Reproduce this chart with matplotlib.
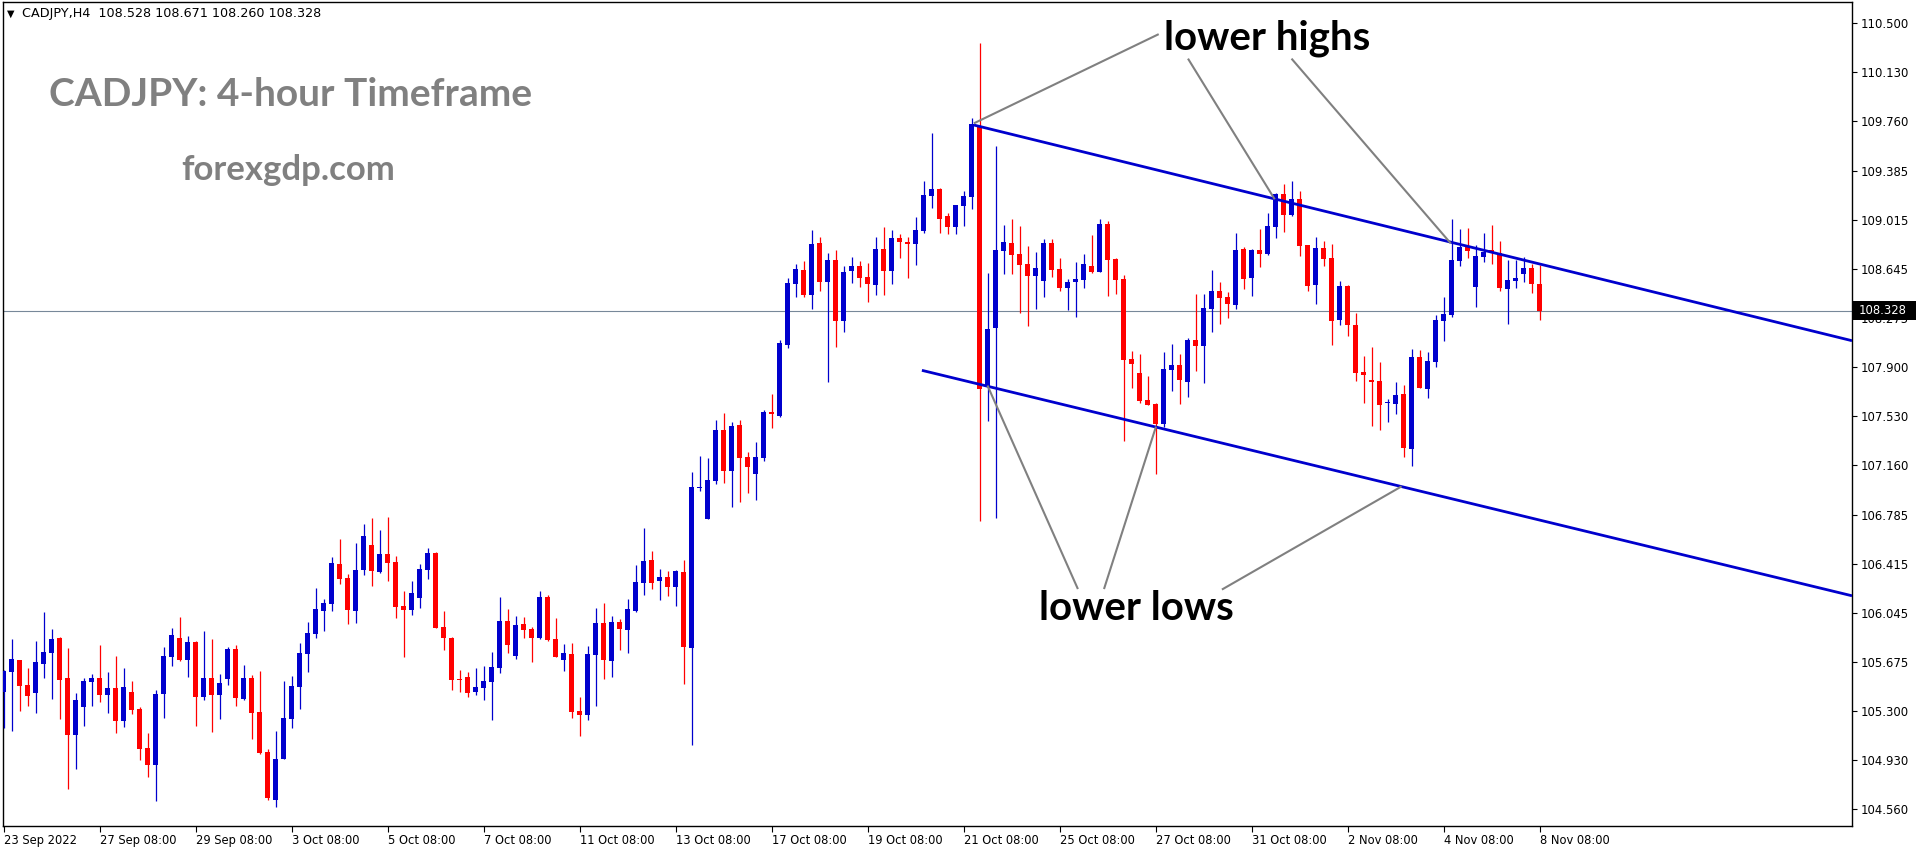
import matplotlib
matplotlib.use("Agg")
import matplotlib.pyplot as plt
import matplotlib.transforms as mtrans
from matplotlib.patches import Rectangle
import numpy as np

# ---------------- data ----------------
opens = [105.447,105.598,105.686,105.497,105.439,105.659,105.742,105.853,105.550,105.122,
         105.333,105.522,105.550,105.424,105.474,105.228,105.444,105.316,105.021,104.895,
         105.432,105.711,105.853,105.689,105.822,105.409,105.550,105.424,105.545,105.769,
         105.394,105.550,105.293,104.991,104.630,104.940,105.243,105.485,105.734,105.885,
         106.059,106.112,106.412,106.306,106.059,106.369,106.556,106.354,106.488,106.427,
         106.094,106.067,106.157,106.369,106.495,105.936,105.855,105.543,105.558,105.447,
         105.477,105.522,105.628,105.981,105.719,105.958,105.921,105.855,106.163,105.845,
         105.689,105.732,105.301,105.273,105.726,105.966,105.681,105.973,105.915,106.059,
         106.271,106.442,106.286,106.314,106.240,106.351,105.779,106.986,106.755,107.042,
         107.425,107.117,107.463,107.221,107.095,107.216,107.561,107.533,108.070,108.531,
         108.634,108.448,108.838,108.546,108.710,108.251,108.629,108.664,108.581,108.523,
         108.793,108.629,108.876,108.846,108.833,108.932,109.196,109.247,109.042,108.962,
         109.121,109.189,109.723,107.753,108.199,108.781,108.839,108.755,108.680,108.592,
         108.554,108.839,108.642,108.501,108.546,108.561,108.665,108.622,108.982,108.718,
         108.566,107.964,107.856,107.652,107.624,107.473,107.881,107.916,107.790,108.105,
         108.062,108.342,108.476,108.430,108.372,108.793,108.576,108.786,108.758,108.962,
         109.209,109.053,109.171,108.823,108.524,108.801,108.725,108.259,108.513,108.219,
         107.863,107.803,107.795,107.627,107.624,107.697,107.284,107.977,107.737,107.941,
         108.251,108.297,108.705,108.808,108.508,108.735,108.786,108.763,108.493,108.554,
         108.607,108.650,108.528]
highs = [105.611,105.845,105.686,105.626,105.830,106.047,105.921,105.860,105.777,105.437,
         105.550,105.580,105.800,105.596,105.716,105.626,105.527,105.331,105.134,105.459,
         105.785,105.928,106.011,105.868,105.830,105.905,105.845,105.580,105.785,105.800,
         105.648,105.573,105.603,105.013,105.149,105.527,105.565,105.815,105.974,106.231,
         106.147,106.465,106.601,106.336,106.571,106.714,106.760,106.669,106.767,106.473,
         106.208,106.283,106.412,106.533,106.503,106.057,105.860,105.611,105.596,105.626,
         105.641,105.747,106.163,106.072,106.019,106.011,105.936,106.208,106.178,106.004,
         105.807,105.815,105.407,105.792,106.079,106.117,106.019,105.996,106.147,106.404,
         106.684,106.510,106.374,106.359,106.367,106.442,107.107,107.228,107.213,107.500,
         107.553,107.485,107.500,107.259,107.334,107.576,107.697,108.105,108.574,108.680,
         108.702,108.937,108.884,108.763,108.785,108.664,108.732,108.702,108.687,108.884,
         108.959,108.937,108.907,108.884,109.035,109.307,109.670,109.254,109.065,109.126,
         109.232,109.783,110.352,108.612,109.572,108.975,109.020,108.967,108.816,108.771,
         108.869,108.869,108.725,108.566,108.695,108.755,108.899,109.020,109.005,108.725,
         108.599,108.025,108.002,107.836,107.632,108.015,108.075,107.999,108.120,108.453,
         108.453,108.634,108.544,108.468,108.914,108.808,108.793,108.944,109.065,109.216,
         109.285,109.307,109.232,108.823,108.884,108.854,108.831,108.551,108.521,108.309,
         107.984,108.052,107.939,107.659,107.788,107.765,108.037,108.030,108.015,108.294,
         108.430,109.020,108.944,108.952,108.823,108.914,108.975,108.854,108.710,108.710,
         108.733,108.680,108.671]
lows = [105.170,105.152,105.303,105.341,105.288,105.553,105.394,105.243,104.714,104.865,
        105.190,105.341,105.371,105.288,105.137,105.182,105.281,104.933,104.804,104.623,
        105.250,105.643,105.681,105.560,105.190,105.386,105.144,105.243,105.500,105.341,
        105.386,105.092,104.978,104.630,104.577,104.940,105.175,105.318,105.598,105.855,
        105.908,106.059,106.263,105.961,105.968,106.331,106.248,106.346,106.286,106.006,
        105.711,106.029,106.082,106.301,105.931,105.764,105.462,105.447,105.409,105.424,
        105.386,105.235,105.591,105.742,105.696,105.855,105.674,105.848,105.832,105.711,
        105.606,105.250,105.114,105.235,105.341,105.545,105.560,105.764,105.742,106.052,
        106.180,106.225,106.142,106.172,106.097,105.507,105.046,106.966,106.755,107.019,
        107.027,106.845,106.883,106.951,106.898,107.193,107.443,107.525,108.047,108.433,
        108.433,108.342,108.478,107.790,108.055,108.168,108.538,108.508,108.395,108.448,
        108.448,108.531,108.728,108.576,108.675,108.917,109.106,108.917,108.909,108.909,
        108.969,109.098,106.740,107.496,106.762,108.607,108.607,108.312,108.214,108.342,
        108.433,108.584,108.478,108.335,108.282,108.501,108.614,108.622,108.440,108.456,
        107.344,107.745,107.632,107.616,107.095,107.450,107.722,107.624,107.677,107.874,
        107.783,108.168,108.229,108.274,108.342,108.493,108.440,108.660,108.750,108.879,
        108.924,109.045,108.743,108.478,108.380,108.667,108.070,108.216,108.138,107.798,
        107.632,107.458,107.427,107.488,107.548,107.223,107.155,107.745,107.669,107.904,
        108.100,108.282,108.667,108.728,108.357,108.697,108.682,108.478,108.229,108.501,
        108.546,108.463,108.260]
closes = [105.603,105.694,105.492,105.417,105.671,105.747,105.845,105.538,105.122,105.384,
          105.527,105.550,105.424,105.474,105.228,105.482,105.311,105.016,104.895,105.429,
          105.716,105.875,105.686,105.822,105.409,105.550,105.424,105.512,105.769,105.401,
          105.550,105.288,104.986,104.645,104.938,105.248,105.490,105.739,105.890,106.072,
          106.117,106.420,106.301,106.067,106.367,106.624,106.362,106.488,106.422,106.089,
          106.067,106.193,106.374,106.495,105.931,105.855,105.538,105.538,105.439,105.482,
          105.527,105.633,105.981,105.802,105.951,105.916,105.855,106.163,105.840,105.711,
          105.739,105.296,105.273,105.732,105.966,105.689,105.973,105.923,106.072,106.276,
          106.435,106.271,106.314,106.240,106.359,105.787,106.994,106.994,107.047,107.425,
          107.117,107.455,107.216,107.148,107.221,107.561,107.548,108.082,108.536,108.642,
          108.448,108.831,108.546,108.710,108.251,108.619,108.664,108.576,108.531,108.793,
          108.629,108.876,108.848,108.833,108.937,109.201,109.247,109.022,108.962,109.126,
          109.194,109.738,107.732,108.189,108.786,108.846,108.750,108.675,108.592,108.650,
          108.839,108.637,108.501,108.544,108.566,108.680,108.622,108.982,108.713,108.561,
          107.957,107.926,107.647,107.616,107.473,107.886,107.916,107.805,108.105,108.062,
          108.347,108.476,108.425,108.380,108.786,108.569,108.786,108.758,108.967,109.209,
          109.053,109.171,108.818,108.516,108.801,108.720,108.251,108.513,108.221,107.858,
          107.843,107.790,107.616,107.632,107.690,107.291,107.977,107.745,107.947,108.256,
          108.302,108.710,108.808,108.781,108.740,108.770,108.760,108.501,108.559,108.574,
          108.650,108.531,108.328]

xtick_bars = [0, 12, 24, 36, 48, 60, 72, 84, 96, 108, 120, 132, 144, 156, 168, 180, 192]
xtick_labels = ["23 Sep 2022", "27 Sep 08:00", "29 Sep 08:00", "3 Oct 08:00", "5 Oct 08:00",
                "7 Oct 08:00", "11 Oct 08:00", "13 Oct 08:00", "17 Oct 08:00", "19 Oct 08:00",
                "21 Oct 08:00", "25 Oct 08:00", "27 Oct 08:00", "31 Oct 08:00", "2 Nov 08:00",
                "4 Nov 08:00", "8 Nov 08:00"]
ytick_values = [110.500, 110.130, 109.760, 109.385, 109.015, 108.645, 108.275, 107.900,
                107.530, 107.160, 106.785, 106.415, 106.045, 105.675, 105.300, 104.930, 104.560]

current_price = 108.328
symbol_header = "CADJPY,H4  108.528 108.671 108.260 108.328"

# channel lines (bar index, price)
upper_channel_x = [121.3, 231.06]
upper_channel_y = [109.730, 108.100]
lower_channel_x = [114.8, 231.06]
lower_channel_y = [107.876, 106.172]

# annotation pointer lines (bar index, price)
highs_pointers = [((144.4, 110.417), (121.3, 109.743)),
                  ((148.06, 110.232), (158.9, 109.169)),
                  ((161.0, 110.232), (180.9, 108.836))]
lows_pointers = [((134.3, 106.223), (123.0, 107.761)),
                 ((137.56, 106.223), (144.06, 107.451)),
                 ((152.3, 106.219), (174.76, 106.999))]
highs_label_pos = (157.9, 110.388)
lows_label_pos = (141.6, 106.075)

# ---------------- drawing ----------------
W, H = 1916, 850
fig = plt.figure(figsize=(W / 100, H / 100), dpi=100)
fig.patch.set_facecolor("white")
ax = fig.add_axes([2.5 / W, 24 / H, (1852 - 2.5) / W, (848 - 24) / H])
ax.set_facecolor("white")
ax.set_xlim(-0.125, 231.06)
ax.set_ylim(104.432, 110.660)

BLUE = "#0000CD"
RED = "#FF0000"

x = np.arange(len(opens))
o = np.array(opens); h = np.array(highs); l = np.array(lows); c = np.array(closes)
colors = [BLUE if cc > oo else RED for oo, cc in zip(o, c)]

ax.axhline(current_price, color="#778899", lw=0.8, zorder=1)

ax.vlines(x, l, h, colors=colors, lw=0.9, zorder=3)
body_bottom = np.minimum(o, c)
body_h = np.maximum(np.abs(c - o), 0.008)
ax.bar(x, body_h, bottom=body_bottom, width=0.625, color=colors, linewidth=0, zorder=4)

ax.plot(upper_channel_x, upper_channel_y, color=BLUE, lw=2.0, zorder=5, solid_capstyle="butt")
ax.plot(lower_channel_x, lower_channel_y, color=BLUE, lw=2.0, zorder=5, solid_capstyle="butt")

for (p0, p1) in highs_pointers + lows_pointers:
    ax.plot([p0[0], p1[0]], [p0[1], p1[1]], color="#808080", lw=1.5, zorder=6,
            solid_capstyle="butt")

ax.text(highs_label_pos[0], highs_label_pos[1], "lower highs", ha="center", va="center",
        fontsize=29, fontweight="bold", family="Lato", color="black", zorder=7)
ax.text(lows_label_pos[0], lows_label_pos[1], "lower lows", ha="center", va="center",
        fontsize=29, fontweight="bold", family="Lato", color="black", zorder=7)

# axes styling
for sp in ax.spines.values():
    sp.set_color("black")
    sp.set_linewidth(1.0)

ax.yaxis.tick_right()
ax.set_yticks(ytick_values)
ax.set_yticklabels([f"{v:.3f}" for v in ytick_values])
ax.tick_params(axis="y", direction="out", length=3.5, width=0.8, pad=2.5,
               labelsize=8.4, colors="black")

ax.set_xticks(xtick_bars)
ax.set_xticklabels(xtick_labels)
ax.tick_params(axis="x", direction="out", length=4, width=0.8, pad=2,
               labelsize=8.3, colors="black")
for lbl in ax.get_xticklabels():
    lbl.set_horizontalalignment("left")

# current price box on the right scale
blend = mtrans.blended_transform_factory(fig.transFigure, ax.transData)
ax_pos = ax.get_position()
box_h = 0.075
rect = Rectangle((ax_pos.x1, current_price - box_h), 1 - ax_pos.x1, 2 * box_h,
                 transform=blend, facecolor="black", edgecolor="none", zorder=20,
                 clip_on=False)
fig.patches.append(rect)
price_txt = fig.text(ax_pos.x1 + 7 / W, 0, f"{current_price:.3f}", transform=blend,
                     color="white", fontsize=8.4, ha="left", va="center", zorder=21)
price_txt.set_y(current_price)

# header and watermark texts
fig.text(7 / W, 1 - 14 / H, "\u25BC", fontsize=7, ha="left", va="center", color="black")
fig.text(22 / W, 1 - 14 / H, symbol_header, fontsize=9.2, ha="left", va="center", color="black")
fig.text(49 / W, 1 - 94 / H, "CADJPY: 4-hour Timeframe", fontsize=28, fontweight="bold",
         family="Lato", color="#808080", ha="left", va="center")
fig.text(181 / W, 1 - 170 / H, "forexgdp.com", fontsize=25, fontweight="bold",
         family="Lato", color="#808080", ha="left", va="center")

fig.savefig("out.png", dpi=100)
